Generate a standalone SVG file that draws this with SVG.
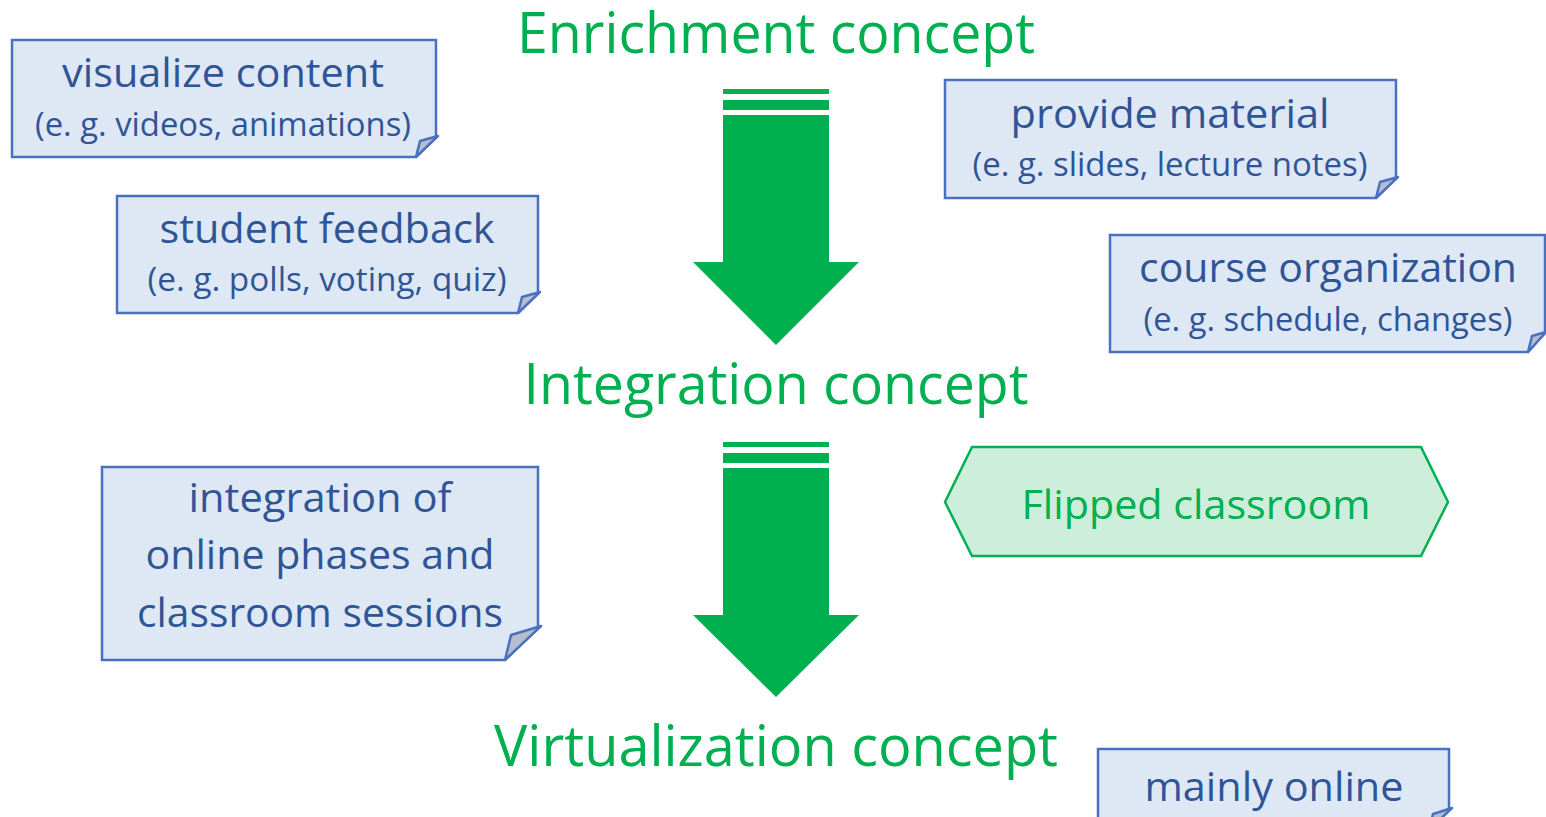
<svg xmlns="http://www.w3.org/2000/svg" width="1546" height="817" viewBox="0 0 1546 817">
<style>
.note{fill:#dee8f5;stroke:#4a70c2;stroke-width:2.5;stroke-linejoin:miter}
.flap{fill:#b6becb;stroke:#4a70c2;stroke-width:2.5;stroke-linejoin:round}
.t{font-family:"Open Sans","Liberation Sans",sans-serif;fill:#2f5597;text-anchor:middle}
.big{font-size:41px}
.sub{font-size:33px}
.title{font-family:"Open Sans","Liberation Sans",sans-serif;fill:#00b050;text-anchor:middle;font-size:56px}
.arrow{fill:#00b050}
</style>
<rect width="1546" height="817" fill="#ffffff"/>
<g id="connectors">
  <g id="arrow1" class="arrow">
    <rect x="723" y="89" width="106" height="5"/>
    <rect x="723" y="100" width="106" height="10"/>
    <polygon points="723,115 829,115 829,262 859,262 776,345 693,262 723,262"/>
  </g>
  <g id="arrow2" class="arrow">
    <rect x="723" y="442" width="106" height="5"/>
    <rect x="723" y="453" width="106" height="10"/>
    <polygon points="723,468 829,468 829,615 859,615 776,697 693,615 723,615"/>
  </g>
</g>
<g id="title-enrichment"><text class="title" x="776" y="53" textLength="518" lengthAdjust="spacingAndGlyphs">Enrichment concept</text></g>
<g id="title-integration"><text class="title" x="776" y="404" textLength="505" lengthAdjust="spacingAndGlyphs">Integration concept</text></g>
<g id="title-virtualization"><text class="title" x="776" y="766" textLength="564" lengthAdjust="spacingAndGlyphs">Virtualization concept</text></g>

<g id="note-visualize">
  <polygon class="note" points="12,40 436,40 436,137 416,157 12,157"/>
  <polygon class="flap" points="416,157 420,141 438,136"/>
  <text class="t big" x="223" y="87" textLength="322" lengthAdjust="spacingAndGlyphs">visualize content</text>
  <text class="t sub" x="223" y="136" textLength="376" lengthAdjust="spacingAndGlyphs">(e. g. videos, animations)</text>
</g>
<g id="note-provide">
  <polygon class="note" points="945,80 1396,80 1396,178 1376,198 945,198"/>
  <polygon class="flap" points="1376,198 1380,182 1398,177"/>
  <text class="t big" x="1170" y="128" textLength="319" lengthAdjust="spacingAndGlyphs">provide material</text>
  <text class="t sub" x="1170" y="176" textLength="395" lengthAdjust="spacingAndGlyphs">(e. g. slides, lecture notes)</text>
</g>
<g id="note-student">
  <polygon class="note" points="117,196 538,196 538,293 518,313 117,313"/>
  <polygon class="flap" points="518,313 522,297 540,292"/>
  <text class="t big" x="327" y="243" textLength="335" lengthAdjust="spacingAndGlyphs">student feedback</text>
  <text class="t sub" x="327" y="291" textLength="359" lengthAdjust="spacingAndGlyphs">(e. g. polls, voting, quiz)</text>
</g>
<g id="note-course">
  <polygon class="note" points="1110,235 1545,235 1545,333 1528,352 1110,352"/>
  <polygon class="flap" points="1528,352 1532,336 1546,332"/>
  <text class="t big" x="1328" y="282" textLength="378" lengthAdjust="spacingAndGlyphs">course organization</text>
  <text class="t sub" x="1328" y="331" textLength="369" lengthAdjust="spacingAndGlyphs">(e. g. schedule, changes)</text>
</g>
<g id="note-integration">
  <polygon class="note" points="102,467 538,467 538,627 505,660 102,660"/>
  <polygon class="flap" points="505,660 511,635 541,626"/>
  <text class="t big" x="320" y="512" textLength="263" lengthAdjust="spacingAndGlyphs">integration of</text>
  <text class="t big" x="320" y="569" textLength="349" lengthAdjust="spacingAndGlyphs">online phases and</text>
  <text class="t big" x="320" y="627" textLength="366" lengthAdjust="spacingAndGlyphs">classroom sessions</text>
</g>
<g id="node-flipped">
  <polygon points="945,502 972,447 1421,447 1448,502 1421,556 972,556" fill="#cdeedb" stroke="#00b050" stroke-width="2.5"/>
  <text x="1196" y="519" font-family="'Open Sans','Liberation Sans',sans-serif" font-size="41" fill="#00b050" text-anchor="middle" textLength="349" lengthAdjust="spacingAndGlyphs">Flipped classroom</text>
</g>
<g id="note-mainly">
  <polygon class="note" points="1098,749 1449,749 1449,810 1429,830 1098,830"/>
  <polygon class="flap" points="1429,830 1433,814 1452,808"/>
  <text class="t big" x="1274" y="801" textLength="259" lengthAdjust="spacingAndGlyphs">mainly online</text>
</g>
</svg>
